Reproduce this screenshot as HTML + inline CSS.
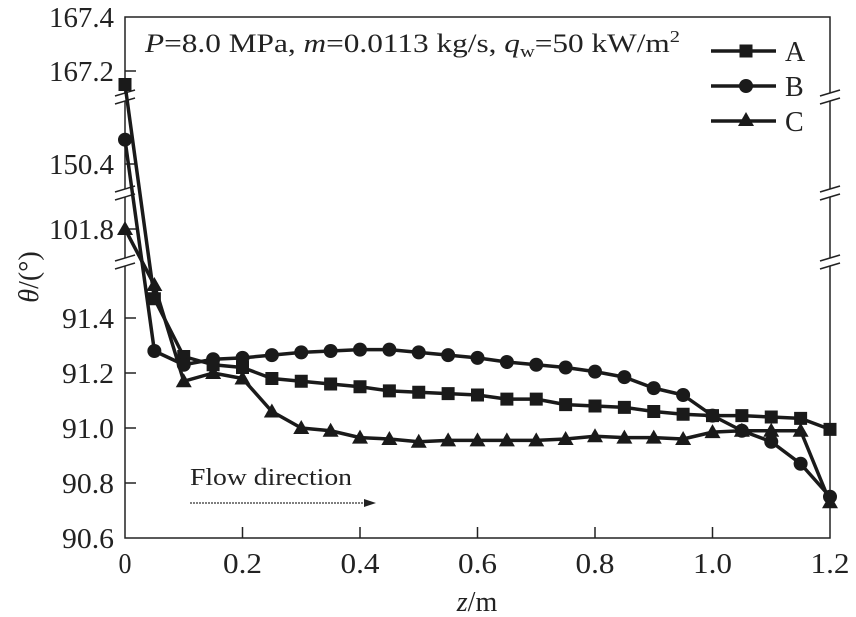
<!DOCTYPE html>
<html><head><meta charset="utf-8"><style>
html,body{margin:0;padding:0;background:#fff;}
svg{display:block;font-family:"Liberation Serif","Times New Roman",serif;}
text{font-family:"Liberation Serif","Times New Roman",serif;}
</style></head><body>
<svg id="chart" width="856" height="617" viewBox="0 0 856 617">
<g id="axes"></g><g id="series"></g>
</svg>
<script>
const zVals=[0,0.05,0.1,0.15,0.2,0.25,0.3,0.35,0.4,0.45,0.5,0.55,0.6,0.65,0.7,0.75,0.8,0.85,0.9,0.95,1.0,1.05,1.1,1.15,1.2];
const seriesA=[167.15,91.47,91.26,91.23,91.22,91.18,91.17,91.16,91.15,91.135,91.13,91.125,91.12,91.105,91.105,91.085,91.08,91.075,91.06,91.05,91.045,91.045,91.04,91.035,90.995];
const seriesB=[150.49,91.28,91.23,91.25,91.255,91.265,91.275,91.28,91.285,91.285,91.275,91.265,91.255,91.24,91.23,91.22,91.205,91.185,91.145,91.12,91.045,90.99,90.95,90.87,90.75];
const seriesC=[101.8,91.52,91.17,91.2,91.18,91.06,91.0,90.99,90.965,90.96,90.95,90.955,90.955,90.955,90.955,90.96,90.97,90.965,90.965,90.96,90.985,90.99,90.99,90.99,90.73];
const xTicks=[0,0.2,0.4,0.6,0.8,1.0,1.2];
const xTickLabels=["0","0.2","0.4","0.6","0.8","1.0","1.2"];
const yTicks=[90.6,90.8,91.0,91.2,91.4,101.8,150.4,167.2,167.4];
const yTickLabels=["90.6","90.8","91.0","91.2","91.4","101.8","150.4","167.2","167.4"];

const NS="http://www.w3.org/2000/svg";
const L=125,R=830,T=17,B=538;
function xS(z){return L+z*(R-L)/1.2;}
function yS(v){
  if(v>=160) return 71-(v-167.2)*270;
  if(v>=120) return 164-(v-150.4)*270;
  if(v>=95) return 229-(v-101.8)*270;
  return B-(v-90.6)*275;
}
function mk(tag,attrs,parent){const e=document.createElementNS(NS,tag);for(const k in attrs)e.setAttribute(k,attrs[k]);parent.appendChild(e);return e;}
const ax=document.getElementById('axes'), sg=document.getElementById('series');

const frame=mk('rect',{x:L,y:T,width:R-L,height:B-T,fill:'none',stroke:'#222','stroke-width':1.5},ax);


[97,193,262].forEach(function(by){
  [L,R].forEach(function(bx){
    const cover=mk('rect',{x:bx-3,y:by-4,width:6,height:8,fill:'#fff'},ax);
    
    
    const b1=mk('line',{x1:bx-10,y1:by-1,x2:bx+10,y2:by-7,stroke:'#222','stroke-width':1.5},ax);
    
    
    const b2=mk('line',{x1:bx-10,y1:by+7,x2:bx+10,y2:by+1,stroke:'#222','stroke-width':1.5},ax);
    
    
  });
});
xTicks.forEach(function(t,i){
  const x=xS(t);
  if(i>0&&i<xTicks.length-1){const tk=mk('line',{x1:x,y1:B,x2:x,y2:B-11,stroke:'#222','stroke-width':1.5},ax);
  
  }
  const lab=xTickLabels[i];
  const tx=mk('text',{x:x,y:B+35,'font-size':28,'text-anchor':'middle',fill:'#222',textLength:lab.length*13,lengthAdjust:'spacingAndGlyphs'},ax);
  tx.textContent=lab;
  
  
});
yTicks.forEach(function(t,i){
  const y=yS(t);
  if(t!==90.6&&t!==167.4){const tk=mk('line',{x1:L,y1:y,x2:L+11,y2:y,stroke:'#222','stroke-width':1.5},ax);
  
  }
  const lab=yTickLabels[i];
  const tx=mk('text',{x:L-11,y:y+10,'font-size':28,'text-anchor':'end',fill:'#222',textLength:lab.length*13,lengthAdjust:'spacingAndGlyphs'},ax);
  tx.textContent=lab;
  
  
});
const xl=mk('text',{x:477,y:611,'font-size':28,'text-anchor':'middle',fill:'#222'},ax);
xl.innerHTML='<tspan font-style="italic">z</tspan>/m';


const yl=mk('text',{x:0,y:0,'font-size':28,'text-anchor':'middle',fill:'#222',transform:'translate(38,277) rotate(-90)'},ax);
yl.innerHTML='<tspan font-style="italic">θ</tspan>/(°)';


const ti=mk('text',{x:145,y:52,'font-size':26,fill:'#222',textLength:535,lengthAdjust:'spacingAndGlyphs'},ax);
ti.innerHTML='<tspan font-style="italic">P</tspan>=8.0 MPa, <tspan font-style="italic">m</tspan>=0.0113 kg/s, <tspan font-style="italic">q</tspan><tspan font-size="17" dy="5">w</tspan><tspan dy="-5">=50 kW/m</tspan><tspan font-size="17" dy="-10">2</tspan>';


const fl=mk('text',{x:190,y:485,'font-size':24,fill:'#222',textLength:162,lengthAdjust:'spacingAndGlyphs'},ax);
fl.textContent='Flow direction';


const fa=mk('line',{x1:190,y1:503,x2:368,y2:503,stroke:'#333','stroke-width':1.3,'stroke-dasharray':'2 1'},ax);


const fh=mk('polygon',{points:'376,503 364,499 364,507',fill:'#222'},ax);



function marker(type,x,y,parent){
  let e;
  if(type==='sq') e=mk('rect',{x:x-6.5,y:y-6.5,width:13,height:13,fill:'#1a1a1a'},parent);
  else if(type==='ci') e=mk('circle',{cx:x,cy:y,r:7,fill:'#1a1a1a'},parent);
  else e=mk('polygon',{points:(x)+','+(y-8)+' '+(x-8)+','+(y+6)+' '+(x+8)+','+(y+6),fill:'#1a1a1a'},parent);
  return e;
}
const defs=[['series-a',seriesA,'sq'],['series-b',seriesB,'ci'],['series-c',seriesC,'tr']];
defs.forEach(function(d){
  const g=mk('g',{},sg);
  
  
  const pts=zVals.map(function(z,i){return xS(z)+','+yS(d[1][i]);}).join(' ');
  const pl=mk('polyline',{points:pts,fill:'none',stroke:'#1a1a1a','stroke-width':3.5,'stroke-linejoin':'round'},g);
  
  
  zVals.forEach(function(z,i){
    const m=marker(d[2],xS(z),yS(d[1][i]),g);
    
    
  });
});
const legend=[['A','sq',51],['B','ci',86],['C','tr',121]];
const lg=mk('g',{},sg);


legend.forEach(function(l){
  const le=mk('g',{},lg);
  
  
  mk('line',{x1:711,y1:l[2],x2:776,y2:l[2],stroke:'#1a1a1a','stroke-width':3.5},le);
  marker(l[1],746,l[2]+(l[1]==='tr'?-1:0),le);
  const t=mk('text',{x:785,y:l[2]+10,'font-size':28,fill:'#222'},le);
  t.textContent=l[0];
});
</script>
</body></html>
